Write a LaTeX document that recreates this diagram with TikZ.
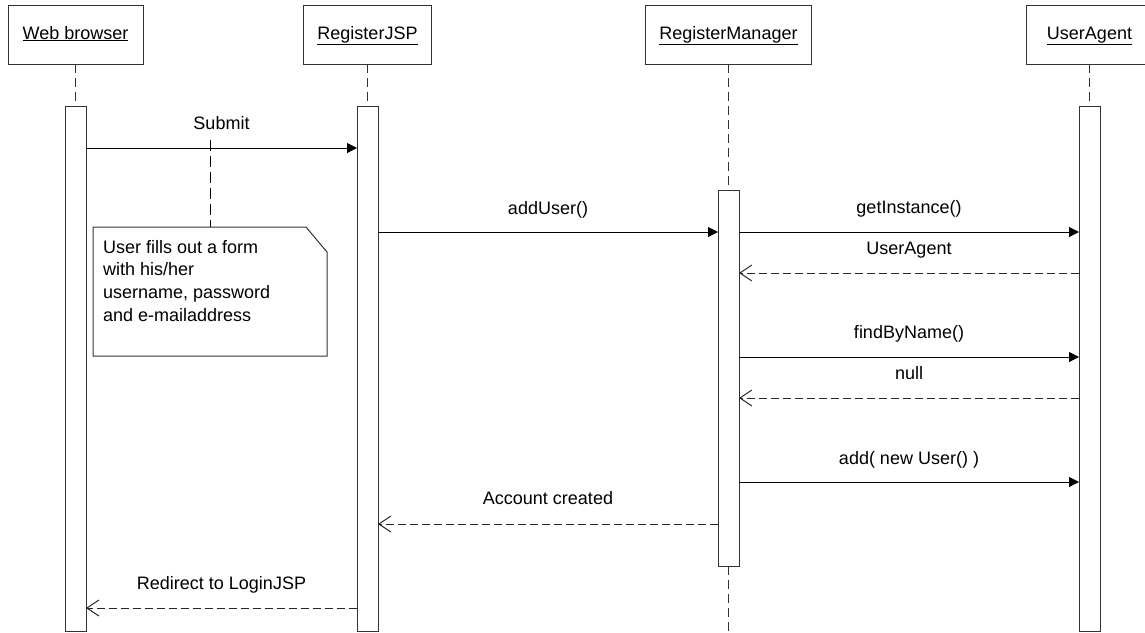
\documentclass[tikz,border=0pt]{standalone}
\usepackage{fontspec}
\setmainfont{Liberation Sans}
\usetikzlibrary{arrows.meta}
\begin{document}
\begin{tikzpicture}[x=1pt,y=-1pt,
  txt/.style={font=\fontsize{18}{22.7}\selectfont},
  head/.style={draw=black!80, line width=1pt, minimum height=59pt, inner sep=0pt, outer sep=0pt,
    text height=13pt, text depth=4pt, txt},
  act/.style={draw=black!80, fill=white, line width=1pt, minimum width=21pt, inner sep=0pt, outer sep=0pt, anchor=north},
  lifeline/.style={draw=black!80, line width=1pt, dash pattern=on 9pt off 5pt},
  call/.style={-{Triangle[length=10pt,width=10pt]}, line width=1pt, draw=black},
  ret/.style={-{Straight Barb[length=12pt,width=16pt]}, line width=1pt, draw=black!85, dash pattern=on 8pt off 4pt},
  lbl/.style={anchor=base, inner sep=0pt, txt},
  notelink/.style={draw=black, line width=1pt, dash pattern=on 11pt off 5pt},
  noteshape/.style={draw=black!80, line width=1pt, fill=white}
]
\useasboundingbox (0,0) rectangle (1145,632);
\clip (0,0) rectangle (1145,632);

% headers
\node[head, minimum width=135pt] (hWB)  at (75.5,34.5)  {\underline{Web browser}};
\node[head, minimum width=128pt] (hJSP) at (367.5,34.5) {\underline{RegisterJSP}};
\node[head, minimum width=166pt] (hRM)  at (728.5,34.5) {\underline{RegisterManager}};
\node[head, minimum width=126pt] (hUA)  at (1089.5,34.5) {\underline{UserAgent}};

% activations
\node[act, minimum height=525pt] (aWB)  at (75.5,106) {};
\node[act, minimum height=525pt] (aJSP) at (367.5,106) {};
\node[act, minimum height=376pt] (aRM)  at (728.5,190) {};
\node[act, minimum height=525pt] (aUA)  at (1089.5,106) {};

% lifelines
\coordinate (rmEnd) at (728.5,632);
\draw[lifeline] (hWB.south) -- (aWB.north);
\draw[lifeline] (hJSP.south) -- (aJSP.north);
\draw[lifeline] (hRM.south) -- (aRM.north);
\draw[lifeline] (aRM.south) -- (rmEnd);
\draw[lifeline] (hUA.south) -- (aUA.north);

% message rows
\coordinate (m1) at (0,148);
\coordinate (m2) at (0,232);
\coordinate (m3) at (0,273);
\coordinate (m4) at (0,357);
\coordinate (m5) at (0,398);
\coordinate (m6) at (0,482);
\coordinate (m7) at (0,524);
\coordinate (m8) at (0,608);

\draw[call] (aWB.east |- m1) -- (aJSP.west |- m1);
\draw[call] (aJSP.east |- m2) -- (aRM.west |- m2);
\draw[call] (aRM.east |- m2) -- (aUA.west |- m2);
\draw[ret]  (aUA.west |- m3) -- (aRM.east |- m3);
\draw[call] (aRM.east |- m4) -- (aUA.west |- m4);
\draw[ret]  (aUA.west |- m5) -- (aRM.east |- m5);
\draw[call] (aRM.east |- m6) -- (aUA.west |- m6);
\draw[ret]  (aRM.west |- m7) -- (aJSP.east |- m7);
\draw[ret]  (aJSP.west |- m8) -- (aWB.east |- m8);

% labels
\node[lbl] (l1) at (221.5,129.5) {Submit};
\node[lbl] (l2) at (548,214.5) {addUser()};
\node[lbl] (l3) at (909,213.5) {getInstance()};
\node[lbl] (l4) at (909,254.5) {UserAgent};
\node[lbl] (l5) at (909,338) {findByName()};
\node[lbl] (l6) at (909,379) {null};
\node[lbl] (l7) at (909,464) {add( new User() )};
\node[lbl] (l8) at (548,504) {Account created};
\node[lbl] (l9) at (221.5,589) {Redirect to LoginJSP};

% note
\coordinate (nl) at (210,140);
\node[minimum width=234pt, minimum height=129pt, inner sep=0pt, outer sep=0pt, anchor=north west] (note) at (93,227) {};
\draw[notelink] (nl) -- (note.north);
\draw[noteshape] (note.north west) -- ([xshift=-21pt]note.north east) -- ([yshift=-25pt]note.north east)
  -- (note.south east) -- (note.south west) -- cycle;
\node[txt, anchor=north west, inner sep=0pt, align=left] (notetext) at (103,240)
  {User fills out a form\\with his/her\\username, password\\and e-mailaddress};
\end{tikzpicture}
\end{document}
